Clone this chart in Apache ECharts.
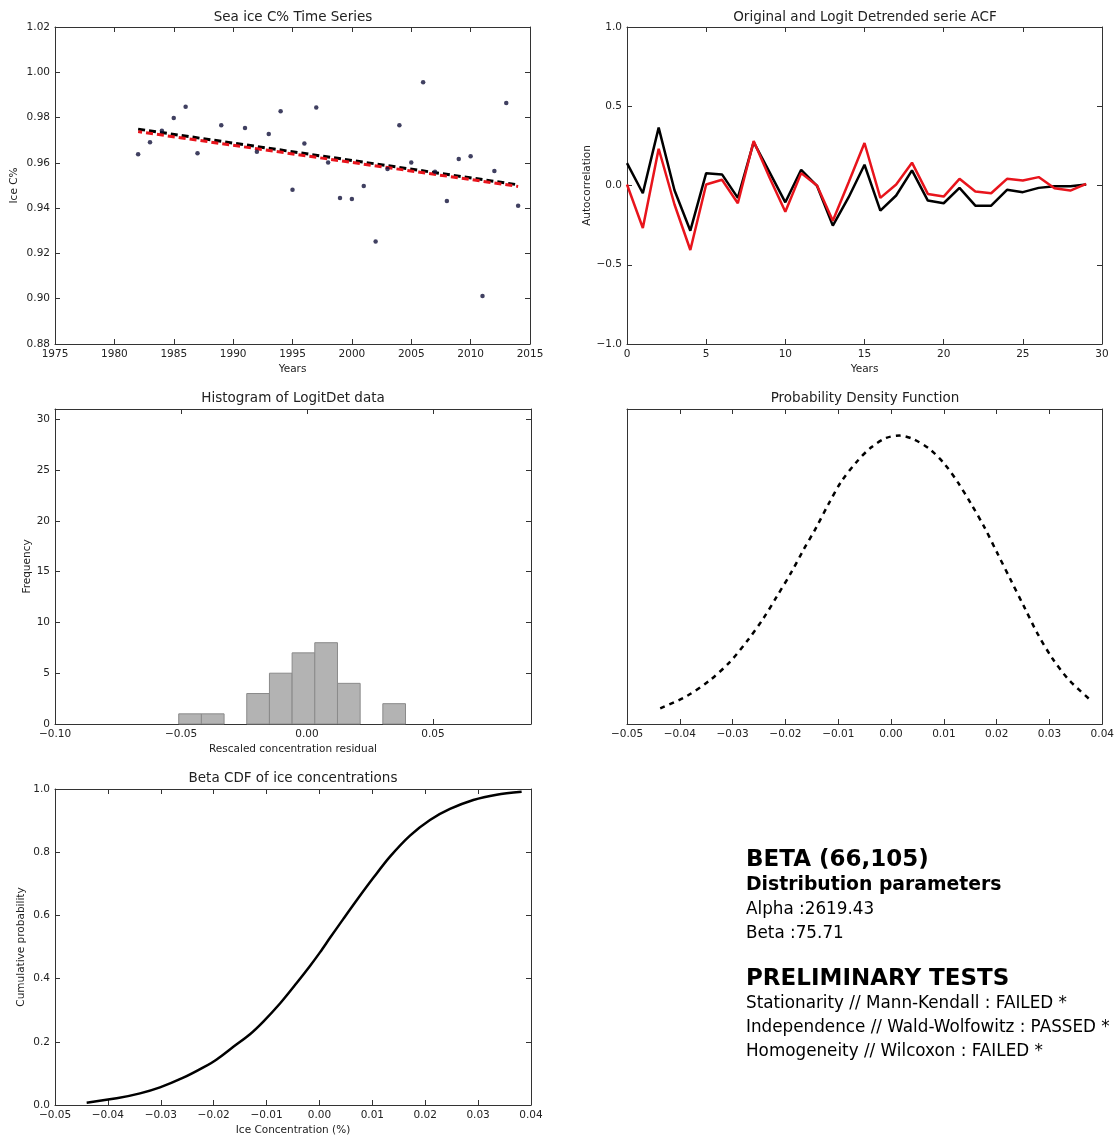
<!DOCTYPE html>
<html>
<head>
<meta charset="utf-8">
<script src="https://cdn.jsdelivr.net/npm/echarts@6/dist/echarts.min.js"></script>
<style>
html,body{margin:0;padding:0;background:#fff;}
#c{width:1117px;height:1139px;}
</style>
</head>
<body>
<div id="c"></div>
<script>
// ---- Data ----
var years = [1982,1983,1984,1985,1986,1987,1989,1991,1992,1993,1994,1995,1996,1997,1998,1999,2000,2001,2002,2003,2004,2005,2006,2007,2008,2009,2010,2011,2012,2013,2014];
var iceC  = [0.9638,0.9691,0.9742,0.9798,0.9848,0.9642,0.9766,0.9754,0.9649,0.9727,0.9828,0.9481,0.9686,0.9844,0.9602,0.9445,0.9440,0.9498,0.9253,0.9573,0.9766,0.9602,0.9956,0.9561,0.9431,0.9617,0.9629,0.9012,0.9564,0.9864,0.9411];
var trendYears = [1982, 2014];
var trendBlack = [0.9749, 0.9503];
var trendRed   = [0.9738, 0.9496];

var lags = [0,1,2,3,4,5,6,7,8,9,10,11,12,13,14,15,16,17,18,19,20,21,22,23,24,25,26,27,28,29];
var acfOriginal = [0.141,-0.049,0.365,-0.03,-0.285,0.078,0.07,-0.078,0.274,0.084,-0.106,0.099,-0.002,-0.253,-0.074,0.131,-0.158,-0.063,0.095,-0.095,-0.112,-0.015,-0.127,-0.127,-0.027,-0.042,-0.015,-0.004,-0.004,0.006];
var acfLogitDet = [0.006,-0.268,0.232,-0.12,-0.407,0.006,0.036,-0.112,0.28,0.05,-0.165,0.078,0.0,-0.222,0.02,0.268,-0.078,0.006,0.144,-0.053,-0.07,0.042,-0.038,-0.049,0.042,0.032,0.053,-0.017,-0.032,0.01];

var binEdges = [-0.0509,-0.0419,-0.0329,-0.0239,-0.0149,-0.0059,0.0031,0.0121,0.0211,0.0301,0.0391];
var binCounts = [1,1,0,3,5,7,8,4,0,2];

var pdfX = [-0.04371,-0.03867,-0.03427,-0.03049,-0.02703,-0.02420,-0.02168,-0.01885,-0.01664,-0.01413,-0.01192,-0.00941,-0.00657,-0.00374,-0.00091,0.00161,0.00413,0.00727,0.01010,0.01262,0.01514,0.01766,0.02017,0.02269,0.02521,0.02773,0.03056,0.03371,0.03810];
var pdfY = [0.0496,0.0887,0.1394,0.1975,0.2682,0.3347,0.4034,0.4826,0.5512,0.6251,0.6960,0.7700,0.8311,0.8786,0.9081,0.9155,0.9050,0.8733,0.8258,0.7677,0.6991,0.6251,0.5407,0.4562,0.3717,0.2872,0.2080,0.1394,0.0710];

var cdfX = [-0.04401,-0.03834,-0.03393,-0.03015,-0.02574,-0.02195,-0.01943,-0.01628,-0.01313,-0.01061,-0.00746,-0.00431,-0.00179,0.00010,0.00200,0.00452,0.00704,0.01019,0.01334,0.01712,0.02090,0.02468,0.02909,0.03351,0.03823];
var cdfY = [0.0074,0.0211,0.0368,0.0558,0.0863,0.1189,0.1442,0.1842,0.2240,0.2640,0.3211,0.3860,0.4400,0.4830,0.5290,0.5890,0.6480,0.7190,0.7860,0.8526,0.9021,0.9368,0.9653,0.9821,0.9916];

var titles = ["Sea ice C% Time Series","Original and Logit Detrended serie ACF","Histogram of LogitDet data","Probability Density Function","Beta CDF of ice concentrations"];
var infoLines = [
  {t:"BETA (66,105)", bold:true, size:23, y:860},
  {t:"Distribution parameters", bold:true, size:18.8, y:885},
  {t:"Alpha :2619.43", bold:false, size:16.8, y:910},
  {t:"Beta :75.71", bold:false, size:16.8, y:934},
  {t:"PRELIMINARY TESTS", bold:true, size:23, y:979},
  {t:"Stationarity // Mann-Kendall : FAILED *", bold:false, size:16.8, y:1004},
  {t:"Independence // Wald-Wolfowitz : PASSED *", bold:false, size:16.8, y:1028},
  {t:"Homogeneity // Wilcoxon : FAILED *", bold:false, size:16.8, y:1052}
];

// ---- Build chart ----
var FONT = "DejaVu Sans";
var TXT = "#222";
var AX = "#333";
function fmt(d){ return function(v){ if (Math.abs(v) < 1e-9) v = 0; return v.toFixed(d).replace('-', '\u2212'); }; }

var grids = [
  {left:55, top:27, width:475, height:317},
  {left:627, top:27, width:475, height:317},
  {left:55, top:409, width:476, height:315},
  {left:627, top:409, width:476, height:315},
  {left:55, top:789, width:476, height:316}
];

var xAxes = [], yAxes = [];
function axisBase(gi, o){
  return {
    type:'value', gridIndex:gi, min:o.min, max:o.max, interval:o.interval,
    axisLine:{show:true, onZero:false, lineStyle:{color:AX, width:1}},
    axisTick:{show:o.ticks!==false, inside:true, length:5, lineStyle:{color:AX, width:1}},
    axisLabel:{show:!!o.labels, fontFamily:FONT, fontSize:10.5, color:TXT, margin:5, formatter:o.fmt, showMaxLabel:o.showMax!==false, showMinLabel:true},
    splitLine:{show:false},
    name:o.name||'', nameLocation:'middle', nameGap:o.nameGap||20,
    nameTextStyle:{fontFamily:FONT, fontSize:10.5, color:TXT}
  };
}
function addGrid(gi, xo, yo){
  var xi = xAxes.length, yi = yAxes.length;
  var xb = axisBase(gi, Object.assign({labels:xo.labels!==false}, xo)); xb.position='bottom'; xAxes.push(xb);
  var xt = axisBase(gi, Object.assign({}, xo, {labels:false, name:''})); xt.position='top'; xAxes.push(xt);
  var yl = axisBase(gi, Object.assign({labels:yo.labels!==false}, yo)); yl.position='left'; yAxes.push(yl);
  var yr = axisBase(gi, Object.assign({}, yo, {labels:false, name:''})); yr.position='right'; yAxes.push(yr);
  return {x:xi, y:yi};
}

var a1 = addGrid(0, {min:1975, max:2015, interval:5, fmt:fmt(0), name:'Years', nameGap:20},
                    {min:0.88, max:1.02, interval:0.02, fmt:fmt(2), name:'Ice C%', nameGap:35});
var a2 = addGrid(1, {min:0, max:30, interval:5, fmt:fmt(0), name:'Years', nameGap:20},
                    {min:-1, max:1, interval:0.5, fmt:fmt(1), name:'Autocorrelation', nameGap:32});
var a3 = addGrid(2, {min:-0.10, max:0.0889, interval:0.05, fmt:fmt(2), showMax:false, name:'Rescaled concentration residual', nameGap:20},
                    {min:0, max:31, interval:5, fmt:fmt(0), showMax:false, name:'Frequency', nameGap:21});
var a4 = addGrid(3, {min:-0.05, max:0.04, interval:0.01, fmt:fmt(2)},
                    {min:0, max:1, interval:0.2, labels:false, ticks:false});
var a5 = addGrid(4, {min:-0.05, max:0.04, interval:0.01, fmt:fmt(2), name:'Ice Concentration (%)', nameGap:20},
                    {min:0, max:1, interval:0.2, fmt:fmt(1), name:'Cumulative probability', nameGap:28});

function zip(a,b){ return a.map(function(v,i){ return [v, b[i]]; }); }

var series = [
  {type:'line', xAxisIndex:a1.x, yAxisIndex:a1.y, data:zip(trendYears, trendBlack), symbol:'none',
   lineStyle:{color:'#000', width:3, type:[7,4]}, z:2},
  {type:'line', xAxisIndex:a1.x, yAxisIndex:a1.y, data:zip(trendYears, trendRed), symbol:'none',
   lineStyle:{color:'#e8141c', width:3, type:[7,4], dashOffset:3}, z:3},
  {type:'scatter', xAxisIndex:a1.x, yAxisIndex:a1.y, data:zip(years, iceC), symbol:'circle', symbolSize:4.5,
   itemStyle:{color:'#10103a'}, z:4},
  {type:'line', xAxisIndex:a2.x, yAxisIndex:a2.y, data:zip(lags, acfOriginal), symbol:'none',
   lineStyle:{color:'#000', width:2.5}, z:2},
  {type:'line', xAxisIndex:a2.x, yAxisIndex:a2.y, data:zip(lags, acfLogitDet), symbol:'none',
   lineStyle:{color:'#e8141c', width:2.5}, z:3},
  {type:'custom', xAxisIndex:a3.x, yAxisIndex:a3.y,
   data:binCounts.map(function(c,i){ return [binEdges[i], binEdges[i+1], c]; }),
   encode:{x:[0,1], y:2},
   renderItem:function(params, api){
     var c = api.value(2);
     if (!c) return null;
     var s = api.coord([api.value(0), c]);
     var e = api.coord([api.value(1), 0]);
     return {type:'rect', shape:{x:s[0], y:s[1], width:e[0]-s[0], height:e[1]-s[1]},
             style:{fill:'#b3b3b3', stroke:'#8a8a8a', lineWidth:1}};
   }},
  {type:'line', xAxisIndex:a4.x, yAxisIndex:a4.y, data:zip(pdfX, pdfY), symbol:'none', smooth:0.3,
   lineStyle:{color:'#000', width:2.5, type:[5,5]}},
  {type:'line', xAxisIndex:a5.x, yAxisIndex:a5.y, data:zip(cdfX, cdfY), symbol:'none', smooth:0.3,
   lineStyle:{color:'#000', width:2.5}}
];

var graphics = [];
var titlePos = [[293,17],[865,17],[293,398],[865,398],[293,778]];
titles.forEach(function(t,i){
  graphics.push({type:'text', x:titlePos[i][0], y:titlePos[i][1],
    style:{text:t, font:'13.5px "DejaVu Sans"', fill:TXT, textAlign:'center', textVerticalAlign:'middle', align:'center', verticalAlign:'middle'}});
});
infoLines.forEach(function(l){
  graphics.push({type:'text', x:746, y:l.y,
    style:{text:l.t, font:(l.bold?'bold ':'')+l.size+'px "DejaVu Sans"', fill:'#000', textAlign:'left', textVerticalAlign:'middle', align:'left', verticalAlign:'middle'}});
});

var chart = echarts.init(document.getElementById('c'));
chart.setOption({
  animation:false,
  backgroundColor:'#fff',
  grid:grids,
  xAxis:xAxes,
  yAxis:yAxes,
  series:series,
  graphic:graphics
});
</script>
</body>
</html>
